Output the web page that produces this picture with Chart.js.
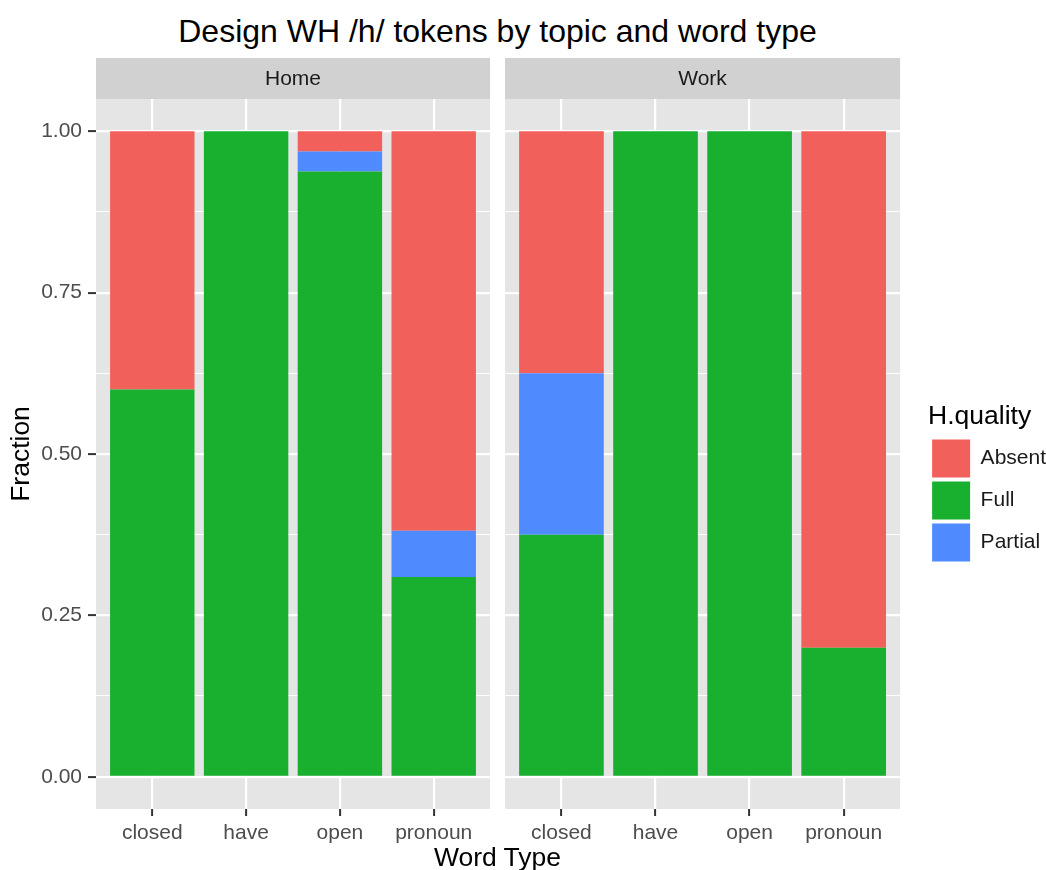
<!DOCTYPE html>
<html>
<head>
<meta charset="utf-8">
<title>Design WH /h/ tokens by topic and word type</title>
<script src="https://cdn.jsdelivr.net/npm/chart.js@4.4.1/dist/chart.umd.min.js"></script>
<style>
  html, body { margin: 0; padding: 0; overflow: hidden; background: #fff; }
  body { width: 1046px; height: 870px; position: relative; font-family: "Liberation Sans", Arial, sans-serif; }
  .box { position: absolute; }
  #title { position: absolute; left: 96px; width: 803px; top: 15px; text-align: center;
           font-size: 32px; line-height: 32px; color: #000; }
  #xTitle { position: absolute; left: 96px; width: 803px; top: 844px; text-align: center;
            font-size: 26.5px; line-height: 26.5px; color: #000; }
</style>
</head>
<body>
<div id="title">Design WH /h/ tokens by topic and word type</div>
<div class="box" style="left:0;top:0;width:490px;height:870px"><canvas id="homeChart"></canvas></div>
<div class="box" style="left:505px;top:0;width:551px;height:870px"><canvas id="workChart"></canvas></div>
<div id="xTitle">Word Type</div>
<script>
// categories and facets
const topics = ['Home', 'Work'];
const wordTypes = ['closed', 'have', 'open', 'pronoun'];
const qualities = ['Absent', 'Full', 'Partial'];

// fraction of tokens per word type, one array per topic and quality
const homeAbsent = [0.40, 0, 0.03125, 0.619];
const homeFull = [0.60, 1, 0.9375, 0.3095];
const homePartial = [0, 0, 0.03125, 0.0715];
const workAbsent = [0.375, 0, 0, 0.80];
const workFull = [0.375, 1, 1, 0.20];
const workPartial = [0.25, 0, 0, 0];

// y axis breaks
const yTicks = [0, 0.25, 0.5, 0.75, 1];
const yMinorTicks = [0.125, 0.375, 0.625, 0.875];

const qualityColors = { Absent: '#F2605C', Full: '#19B02F', Partial: '#4F8AFF' };
const FONT = '"Liberation Sans", Arial, sans-serif';
Chart.defaults.font.family = FONT;

// grey panel plus the facet strip above it
const facetPanel = {
  id: 'facetPanel',
  beforeDraw(chart, args, opts) {
    const { ctx, chartArea: a } = chart;
    ctx.save();
    ctx.fillStyle = '#E5E5E5';
    ctx.fillRect(a.left, a.top, a.width, a.height);
    ctx.fillStyle = '#D1D1D1';
    ctx.fillRect(a.left, a.top - 41, a.width, 41);
    ctx.fillStyle = '#1A1A1A';
    ctx.font = '21px ' + FONT;
    ctx.textAlign = 'center';
    ctx.textBaseline = 'middle';
    ctx.fillText(opts.label, (a.left + a.right) / 2, a.top - 20);
    ctx.restore();
  }
};

function toPoints(values) {
  return values.map((v, i) => ({ x: i + 1, y: v }));
}

function buildDatasets(absent, full, partial) {
  // stacked bottom to top: Full, Partial, Absent
  const byName = { Absent: absent, Full: full, Partial: partial };
  return ['Full', 'Partial', 'Absent'].map(name => ({
    label: name,
    data: toPoints(byName[name]),
    backgroundColor: qualityColors[name],
    borderWidth: 0,
    categoryPercentage: 1,
    barPercentage: 0.9,
    stack: 'h'
  }));
}

function makeChart(id, topic, datasets, isFirst) {
  const isMajor = v => yTicks.includes(v);
  const scales = {
    x: {
      type: 'linear',
      min: 0.4,
      max: 4.6,
      offset: false,
      afterBuildTicks: s => { s.ticks = wordTypes.map((w, i) => ({ value: i + 1 })); },
      afterFit: s => { s.height = 61; },
      grid: { offset: false, color: '#FFFFFF', lineWidth: 2.2, tickColor: '#333333', tickLength: 7, tickWidth: 2 },
      border: { display: false },
      ticks: {
        color: '#4D4D4D', font: { size: 21 }, padding: 5, autoSkip: false, maxRotation: 0,
        callback: v => wordTypes[v - 1] || ''
      }
    },
    y: {
      // second panel: axis sits on the right, unlabelled, and only reserves the gap before the legend
      position: isFirst ? 'left' : 'right',
      min: -0.05,
      max: 1.05,
      stacked: true,
      afterBuildTicks: s => {
        s.ticks = yTicks.concat(yMinorTicks).sort((a, b) => a - b).map(v => ({ value: v }));
      },
      afterFit: s => { s.width = isFirst ? 96 : 28; },
      grid: {
        color: '#FFFFFF',
        lineWidth: c => (c.tick && isMajor(c.tick.value)) ? 2.2 : 1.1,
        drawTicks: isFirst,
        tickColor: c => (c.tick && isMajor(c.tick.value)) ? '#333333' : 'rgba(0,0,0,0)',
        tickLength: 8,
        tickWidth: 2
      },
      border: { display: false },
      ticks: {
        display: isFirst,
        color: '#4D4D4D', font: { size: 21 }, padding: 6,
        callback: v => isMajor(v) ? v.toFixed(2) : ''
      },
      title: {
        display: isFirst, text: 'Fraction', color: '#000000',
        font: { size: 26.5 }, padding: { top: 6, bottom: 0 }
      }
    }
  };
  return new Chart(document.getElementById(id), {
    type: 'bar',
    data: { datasets: datasets },
    options: {
      responsive: true,
      maintainAspectRatio: false,
      animation: false,
      layout: { padding: { top: 99, left: 0, right: 0, bottom: 0 } },
      scales: scales,
      plugins: {
        facetPanel: { label: topic },
        legend: {
          display: !isFirst,
          position: 'right',
          title: {
            display: true, text: 'H.quality', position: 'start', color: '#000000',
            font: { size: 26.5 }, padding: 0
          },
          labels: {
            boxWidth: 38, boxHeight: 38, padding: 4, color: '#1A1A1A',
            font: { size: 21 },
            sort: (a, b) => qualities.indexOf(a.text) - qualities.indexOf(b.text)
          }
        }
      }
    },
    plugins: [facetPanel]
  });
}

document.addEventListener('DOMContentLoaded', function () {
  makeChart('homeChart', topics[0], buildDatasets(homeAbsent, homeFull, homePartial), true);
  makeChart('workChart', topics[1], buildDatasets(workAbsent, workFull, workPartial), false);
});
</script>
</body>
</html>
